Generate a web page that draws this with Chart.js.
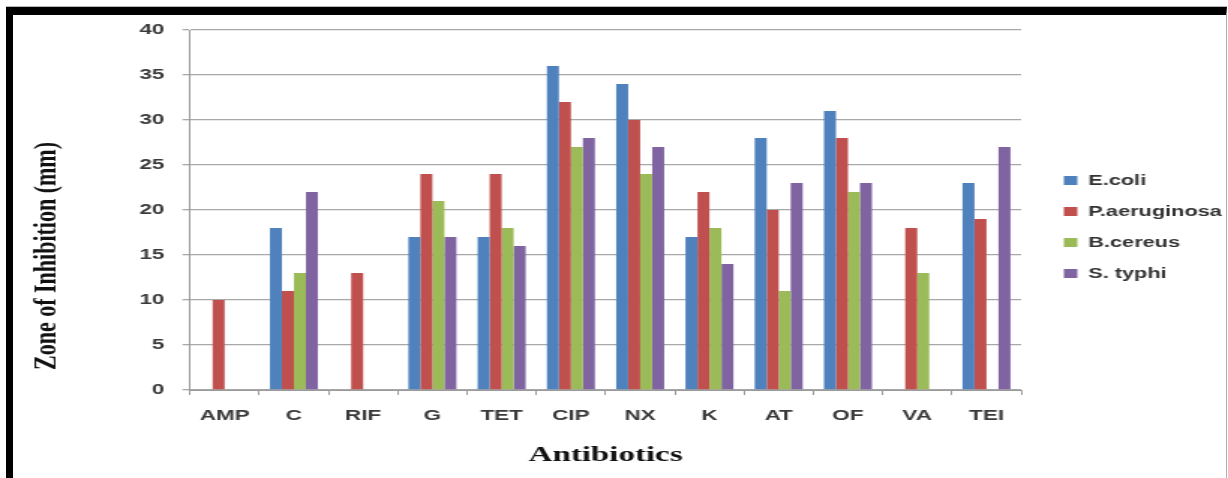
<!DOCTYPE html>
<html>
<head>
<meta charset="utf-8">
<script src="https://cdn.jsdelivr.net/npm/chart.js@4/dist/chart.umd.min.js"></script>
<style>
  html, body { margin: 0; padding: 0; background: #fff; }
  body { width: 1228px; height: 478px; position: relative; overflow: hidden; }
  /* the chart is drawn narrow and widened horizontally */
  #wrap {
    position: absolute; left: 0; top: 0;
    width: 819px; height: 478px;
    transform: scaleX(1.4994); transform-origin: 0 0;
  }
  #frame {
    position: absolute; left: 6px; top: 7px;
    width: 1213px; height: 480px;
    border-top: 8px solid #000;
    border-left: 7px solid #000;
    border-right: 1px solid #b0b0b0;
    box-shadow: 0 -1px 0 #b8b8b8;
    pointer-events: none;
  }
</style>
</head>
<body>
<div id="wrap"><canvas id="chart" width="819" height="478"></canvas></div>
<div id="frame"></div>
<script>
// Zone of inhibition (mm) per antibiotic and organism
const antibiotics  = ['AMP', 'C', 'RIF', 'G', 'TET', 'CIP', 'NX', 'K', 'AT', 'OF', 'VA', 'TEI'];
const ecoli        = [0, 18, 0, 17, 17, 36, 34, 17, 28, 31, 0, 23];
const paeruginosa  = [10, 11, 13, 24, 24, 32, 30, 22, 20, 28, 18, 19];
const bcereus      = [0, 13, 0, 21, 18, 27, 24, 18, 11, 22, 13, 0];
const styphi       = [0, 22, 0, 17, 16, 28, 27, 14, 23, 23, 0, 27];

const seriesNames  = ['E.coli', 'P.aeruginosa', 'B.cereus', 'S. typhi'];
const yMin = 0, yMax = 40, yStep = 5;

const xTitle = 'Antibiotics';
const yTitle = 'Zone of Inhibition (mm)';

const colors = ['#4F81BD', '#C0504D', '#9BBB59', '#8064A2'];
const tickFont = { family: '"Liberation Sans", Arial, sans-serif', size: 15, weight: 'bold' };
const titleFont = { family: '"Liberation Serif", "Times New Roman", serif', size: 22, weight: 'bold' };

// rotated y-axis title, drawn beside the value axis
const yTitlePlugin = {
  id: 'yTitle',
  afterDraw(chart) {
    const ctx = chart.ctx;
    ctx.save();
    ctx.translate(37.3, 256);
    ctx.rotate(-Math.PI / 2);
    ctx.font = 'bold 22px "Liberation Serif", "Times New Roman", serif';
    ctx.fillStyle = '#111';
    ctx.textAlign = 'center';
    ctx.textBaseline = 'alphabetic';
    ctx.fillText(yTitle, 0, 0);
    ctx.restore();
  }
};

const values = [ecoli, paeruginosa, bcereus, styphi];

new Chart(document.getElementById('chart'), {
  type: 'bar',
  data: {
    labels: antibiotics,
    datasets: seriesNames.map((name, i) => ({
      label: name,
      data: values[i],
      backgroundColor: colors[i],
      borderWidth: 0,
      categoryPercentage: 0.693,
      barPercentage: 1.0
    }))
  },
  options: {
    responsive: false,
    animation: false,
    layout: { padding: { left: 10, right: 0, top: 30, bottom: 54 } },
    plugins: {
      tooltip: { enabled: false },
      legend: {
        position: 'right',
        align: 'center',
        maxWidth: 126,
        labels: {
          boxWidth: 9,
          boxHeight: 9,
          padding: 16.5,
          color: '#333',
          font: { family: '"Liberation Sans", Arial, sans-serif', size: 14.5, weight: 'bold' }
        }
      }
    },
    scales: {
      x: {
        grid: {
          display: true,
          drawOnChartArea: false,
          drawTicks: true,
          tickLength: 5,
          color: '#9a9a9a',
          offset: true
        },
        border: { display: true, color: '#9a9a9a', width: 1 },
        ticks: { color: '#3a3a3a', font: tickFont, padding: 12, maxRotation: 0 },
        title: {
          display: true,
          text: xTitle,
          color: '#111',
          font: titleFont,
          padding: { top: 0, bottom: -45 }
        },
        afterFit(scale) { scale.height = 34; }
      },
      y: {
        min: yMin,
        max: yMax,
        grid: { color: '#a8a8a8', lineWidth: 1.3, tickLength: 5, drawTicks: true },
        border: { display: true, color: '#9a9a9a', width: 1 },
        ticks: { stepSize: yStep, color: '#3a3a3a', font: tickFont, padding: 12 },
        title: { display: false },
        afterFit(scale) { scale.width = 116.7; }
      },
      yGap: {
        type: 'linear',
        position: 'right',
        display: true,
        grid: { display: false },
        border: { display: false },
        ticks: { display: false },
        afterFit(scale) { scale.width = 12; }
      }
    }
  },
  plugins: [yTitlePlugin]
});
</script>
</body>
</html>
